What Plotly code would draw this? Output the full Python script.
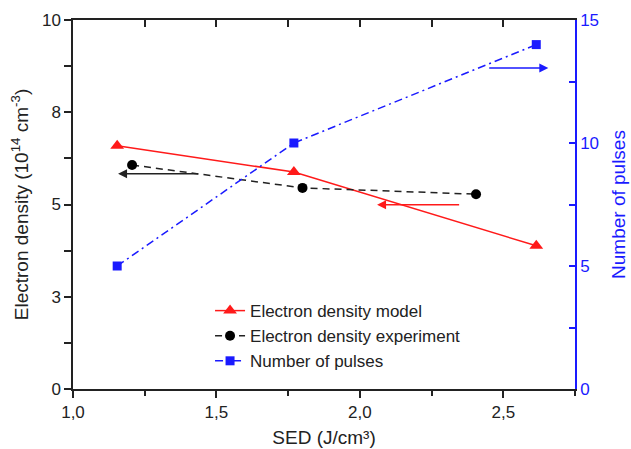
import plotly.graph_objects as go

# ---- data ----
sed_model = [1.154, 1.77, 2.615]
ne_model = [6.59, 5.88, 3.88]

sed_exp = [1.206, 1.80, 2.405]
ne_exp = [6.07, 5.45, 5.28]

sed_pulses = [1.154, 1.77, 2.615]
pulses = [5, 10, 14]

x_tickvals = [1.0, 1.5, 2.0, 2.5]
x_ticktext = ["1,0", "1,5", "2,0", "2,5"]
x_minor = [1.25, 1.75, 2.25, 2.75]
x_top_ticks = [1.25, 1.5, 1.75, 2.0, 2.25, 2.5]

y_tickvals = [0, 2.5, 5, 7.5, 10]
y_ticktext = ["0", "3", "5", "8", "10"]
y_minor = [1.25, 3.75, 6.25, 8.75]

y2_tickvals = [0, 5, 10, 15]
y2_minor = [2.5, 7.5, 12.5]

# arrows: (head_x, head_y, tail_x, tail_y)
arrow_exp = (1.157, 5.83, 1.45, 5.83)
arrow_model = (2.06, 4.99, 2.36, 4.99)
arrow_pulses = (2.657, 13.05, 2.437, 13.05)

RED = "#ff1a1a"
BLUE = "#1a1aff"
TXT = "#222222"
FONT = "Liberation Sans, Arial, sans-serif"

fig = go.Figure()
fig.add_trace(go.Scatter(
    x=sed_model, y=ne_model, mode="lines+markers", name="Electron density model",
    line=dict(color=RED, width=1.5),
    marker=dict(symbol="triangle-up", size=12, color=RED),
    xaxis="x", yaxis="y"))
fig.add_trace(go.Scatter(
    x=sed_exp, y=ne_exp, mode="lines+markers", name="Electron density experiment",
    line=dict(color="#222222", width=1.5, dash="7px,5px"),
    marker=dict(symbol="circle", size=10, color="black"),
    xaxis="x", yaxis="y"))
fig.add_trace(go.Scatter(
    x=sed_pulses, y=pulses, mode="lines+markers", name="Number of pulses",
    line=dict(color=BLUE, width=1.5, dash="8px,4px,2px,4px"),
    marker=dict(symbol="square", size=9, color=BLUE),
    xaxis="x", yaxis="y2"))
# invisible trace to activate top tick axis
fig.add_trace(go.Scatter(
    x=[x_tickvals[0]], y=[y_tickvals[0]], mode="markers", opacity=0,
    showlegend=False, hoverinfo="skip", xaxis="x2", yaxis="y"))

def arrow(a, color, yref):
    return dict(x=a[0], y=a[1], ax=a[2], ay=a[3], xref="x", yref=yref,
                axref="x", ayref=yref, showarrow=True, arrowhead=2,
                arrowsize=1.2, arrowwidth=1.5, arrowcolor=color, text=" ")

fig.update_layout(
    width=631, height=449,
    margin=dict(l=73, r=56, t=20, b=60, autoexpand=False),
    paper_bgcolor="white", plot_bgcolor="white",
    font=dict(family=FONT, color=TXT, size=17),
    showlegend=True,
    legend=dict(x=0.273, y=0.26, xanchor="left", yanchor="top",
                bgcolor="rgba(0,0,0,0)", font=dict(size=17, color=TXT),
                tracegroupgap=0, itemwidth=30),
    xaxis=dict(range=[1.0, 2.75], tickmode="array", tickvals=x_tickvals,
               ticktext=x_ticktext, ticks="outside", ticklen=7, tickwidth=1.5,
               tickcolor=TXT, showline=True, linecolor=TXT, linewidth=1.5,
               mirror=True, showgrid=False, zeroline=False, automargin=False,
               tickfont=dict(size=17, color=TXT),
               minor=dict(tickvals=x_minor, ticks="outside", ticklen=5,
                          tickwidth=1.5, tickcolor=TXT, showgrid=False),
               title=dict(text="SED (J/cm³)", font=dict(size=19, color=TXT),
                          standoff=10)),
    xaxis2=dict(range=[1.0, 2.75], overlaying="x", side="top", anchor="y",
                tickmode="array", tickvals=x_top_ticks, ticks="inside",
                ticklen=7, tickwidth=1.5, tickcolor=TXT, showticklabels=False,
                showline=False, showgrid=False, zeroline=False, automargin=False),
    yaxis=dict(range=[0, 10], tickmode="array", tickvals=y_tickvals,
               ticktext=y_ticktext, ticks="outside", ticklen=7, tickwidth=1.5,
               tickcolor=TXT, showline=True, linecolor=TXT, linewidth=1.5,
               showgrid=False, zeroline=False, automargin=False,
               tickfont=dict(size=17, color=TXT),
               minor=dict(tickvals=y_minor, ticks="outside", ticklen=7,
                          tickwidth=1.5, tickcolor=TXT, showgrid=False),
               title=dict(text="Electron density (10<sup>14</sup> cm<sup>-3</sup>)",
                          font=dict(size=19, color=TXT), standoff=8)),
    yaxis2=dict(range=[0, 15], overlaying="y", side="right", anchor="x",
                tickmode="array", tickvals=y2_tickvals, ticks="inside",
                ticklen=6, tickwidth=1.5, tickcolor=BLUE, showline=True,
                linecolor=BLUE, linewidth=1.5, showgrid=False, zeroline=False,
                automargin=False,
                tickfont=dict(size=17, color=BLUE),
                minor=dict(tickvals=y2_minor, ticks="inside", ticklen=6,
                           tickwidth=1.5, tickcolor=BLUE, showgrid=False),
                title=dict(text="Number of pulses", font=dict(size=19, color=BLUE),
                           standoff=14)),
    annotations=[arrow(arrow_exp, "#222222", "y"),
                 arrow(arrow_model, RED, "y"),
                 arrow(arrow_pulses, BLUE, "y2")],
)

fig.write_html("out.html")
